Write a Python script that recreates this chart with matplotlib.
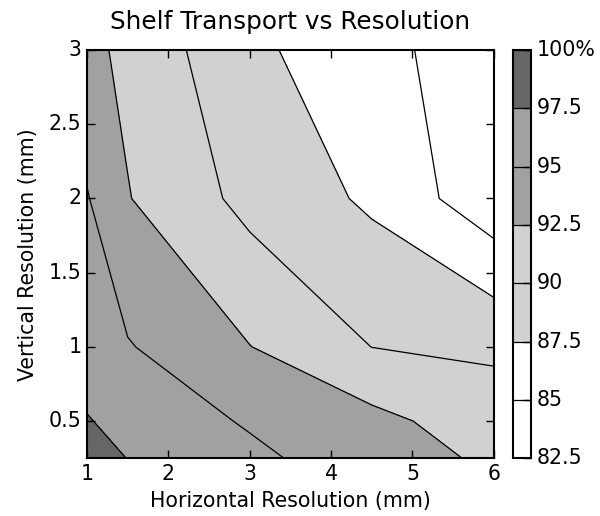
import numpy as np
import matplotlib
matplotlib.use('Agg')
import matplotlib.pyplot as plt

plt.style.use('classic')
plt.rcParams['figure.facecolor'] = 'white'
plt.rcParams['savefig.facecolor'] = 'white'
plt.rcParams['font.size'] = 14.8
plt.rcParams['axes.linewidth'] = 1.5
plt.rcParams['xtick.major.size'] = 6
plt.rcParams['ytick.major.size'] = 6
plt.rcParams['xtick.major.width'] = 1.0
plt.rcParams['ytick.major.width'] = 1.0

# horizontal / vertical grid spacing of the runs (mm)
horiz_res = [1, 1.5, 3, 4.5, 6]
vert_res = [0.25, 0.5, 1, 2, 3]

# shelf transport as % of the finest run, one row per vertical resolution
transport_025 = [100.0, 97.40, 95.53, 93.64, 92.10]
transport_05 = [97.67, 96.60, 94.75, 93.20, 91.14]
transport_1 = [95.97, 95.17, 92.55, 89.98, 89.60]
transport_2 = [95.16, 92.61, 89.26, 87.10, 83.30]
transport_3 = [93.13, 91.96, 87.88, 86.30, 82.60]

levels = [82.5, 85, 87.5, 90, 92.5, 95, 97.5, 100]
level_labels = ['82.5', '85', '87.5', '90', '92.5', '95', '97.5', '100%']
fill_colors = ['white', 'white', '0.82', '0.82', '0.63', '0.63', '0.4']

X, Y = np.meshgrid(horiz_res, vert_res)
Z = np.array([transport_025, transport_05, transport_1, transport_2, transport_3])

fig = plt.figure(figsize=(6, 5.16), dpi=100)
ax = fig.add_axes([0.145, 0.112, 0.678, 0.791])
cax = fig.add_axes([0.855, 0.112, 0.03, 0.791])

cf = ax.contourf(X, Y, Z, levels=levels, colors=fill_colors)
cl = ax.contour(X, Y, Z, levels=levels, colors='k', linewidths=0.9)

ax.set_xlim(1, 6)
ax.set_ylim(0.25, 3)
ax.set_xticks([1, 2, 3, 4, 5, 6])
ax.set_yticks([0.5, 1, 1.5, 2, 2.5, 3])
ax.set_yticklabels(['0.5', '1', '1.5', '2', '2.5', '3'])
ax.set_xlabel('Horizontal Resolution (mm)')
ax.set_ylabel('Vertical Resolution (mm)', labelpad=8)
ax.set_title('Shelf Transport vs Resolution', fontsize=17.8, y=1.035)

cbar = fig.colorbar(cf, cax=cax, ticks=levels)
cbar.add_lines(cl)
cbar.outline.set_linewidth(1.5)
cbar.ax.set_yticklabels(level_labels)

fig.savefig('out.png', dpi=100)
